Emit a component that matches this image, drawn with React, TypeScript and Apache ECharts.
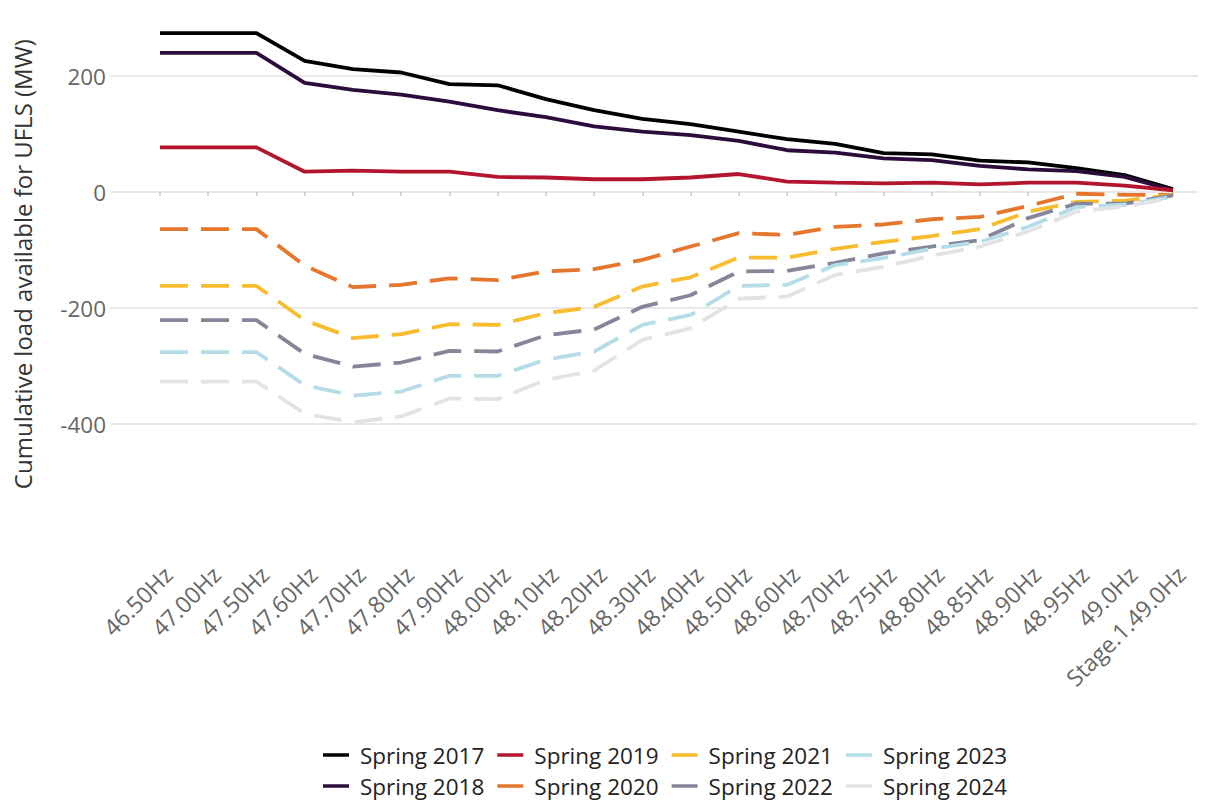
import React, { useEffect, useRef } from "react";
import * as echarts from "echarts";

const categories = [
  "46.50Hz", "47.00Hz", "47.50Hz", "47.60Hz", "47.70Hz", "47.80Hz", "47.90Hz",
  "48.00Hz", "48.10Hz", "48.20Hz", "48.30Hz", "48.40Hz", "48.50Hz", "48.60Hz",
  "48.70Hz", "48.75Hz", "48.80Hz", "48.85Hz", "48.90Hz", "48.95Hz", "49.0Hz",
  "Stage.1.49.0Hz",
];

const yTicks = [-400, -200, 0, 200];

const spring2017 = [274, 274, 274, 226, 212, 206, 186, 184, 160, 141, 126, 117, 104, 91, 83, 67, 65, 54, 51, 41, 29, 5];
const spring2018 = [240, 240, 240, 188, 176, 168, 156, 141, 129, 113, 104, 98, 88, 72, 68, 58, 55, 45, 39, 36, 26, 3];
const spring2019 = [77, 77, 77, 35, 37, 35, 35, 26, 25, 22, 22, 25, 31, 18, 16, 15, 16, 13, 16, 16, 11, 3];
const spring2020 = [-64, -64, -64, -127, -164, -160, -149, -152, -137, -133, -117, -94, -71, -74, -60, -56, -47, -43, -24, -3, -5, -5];
const spring2021 = [-162, -162, -162, -221, -252, -245, -228, -229, -209, -198, -163, -147, -113, -113, -98, -86, -76, -64, -34, -17, -15, -5];
const spring2022 = [-221, -221, -221, -279, -301, -294, -274, -275, -247, -237, -198, -178, -137, -136, -122, -106, -94, -83, -45, -20, -20, -6];
const spring2023 = [-276, -276, -276, -333, -351, -344, -317, -317, -289, -275, -229, -212, -162, -160, -126, -114, -98, -86, -60, -26, -22, -8];
const spring2024 = [-327, -327, -327, -382, -397, -387, -356, -357, -324, -308, -255, -235, -184, -180, -143, -129, -110, -94, -68, -34, -25, -10];

const seriesNames = [
  "Spring 2017", "Spring 2018", "Spring 2019", "Spring 2020",
  "Spring 2021", "Spring 2022", "Spring 2023", "Spring 2024",
];
const seriesValues = [spring2017, spring2018, spring2019, spring2020, spring2021, spring2022, spring2023, spring2024];
const seriesColors = ["#000000", "#2c0c3c", "#b3152f", "#e4762d", "#f8bd2e", "#85869a", "#b5dde8", "#e3e3e6"];
const seriesDashed = [false, false, false, true, true, true, true, true];

const FONT = "Open Sans";

export default function App() {
  const ref = useRef<HTMLDivElement>(null);
  useEffect(() => {
    if (!ref.current) return;
    const chart = echarts.init(ref.current, undefined, { renderer: "svg" });
    const idx = categories.map((_, i) => i);
    const series = seriesNames.map((name, s) => ({
      name,
      type: "line",
      data: seriesValues[s].map((v, i) => [i, v]),
      symbol: "none",
      color: seriesColors[s],
      lineStyle: {
        color: seriesColors[s],
        width: 3.8,
        type: seriesDashed[s] ? [28, 13] : "solid",
        cap: "butt",
      },
      itemStyle: { color: seriesColors[s] },
    }));
    const legendCommon = {
      left: 318,
      icon: "rect",
      itemWidth: 26,
      itemHeight: 3.5,
      itemGap: 13,
      textStyle: { fontFamily: FONT, fontSize: 22.5, color: "#222", padding: [0, 0, 0, 6] },
    };
    chart.setOption({
      animation: false,
      backgroundColor: "#ffffff",
      textStyle: { fontFamily: FONT },
      grid: { left: 110, right: 13, top: 18, bottom: 267.8, containLabel: false },
      legend: [
        { ...legendCommon, top: 738.5, data: ["Spring 2017", "Spring 2019", "Spring 2021", "Spring 2023"] },
        { ...legendCommon, top: 769.5, data: ["Spring 2018", "Spring 2020", "Spring 2022", "Spring 2024"] },
      ],
      xAxis: {
        type: "value",
        min: -1.036,
        max: 21.52,
        axisLine: { show: false },
        splitLine: { show: false },
        axisTick: {
          show: true,
          customValues: idx,
          length: 4,
          lineStyle: { color: "#c8c8c8", width: 1.5 },
        },
        axisLabel: {
          customValues: idx,
          rotate: 45,
          margin: 28,
          verticalAlign: "top",
          fontFamily: FONT,
          fontSize: 23,
          color: "#666",
          formatter: (v: number) => categories[Math.round(v)] ?? "",
        },
      },
      yAxis: {
        type: "value",
        min: -590,
        max: 300,
        name: "Cumulative load available for UFLS (MW)",
        nameLocation: "middle",
        nameGap: 76,
        nameTextStyle: { fontFamily: FONT, fontSize: 24, color: "#333", padding: [0, 0, 0, 24] },
        axisLine: { show: false },
        axisTick: { show: false, customValues: yTicks },
        axisLabel: {
          customValues: yTicks,
          margin: 4,
          fontFamily: FONT,
          fontSize: 22.5,
          color: "#666",
        },
        splitLine: { show: true, lineStyle: { color: "#e0e0e0", width: 1.5 } },
      },
      series,
    });
    return () => chart.dispose();
  }, []);
  return (
    <div
      ref={ref}
      style={{ position: "fixed", left: 0, top: 0, width: 1211, height: 802, background: "#fff" }}
    />
  );
}
